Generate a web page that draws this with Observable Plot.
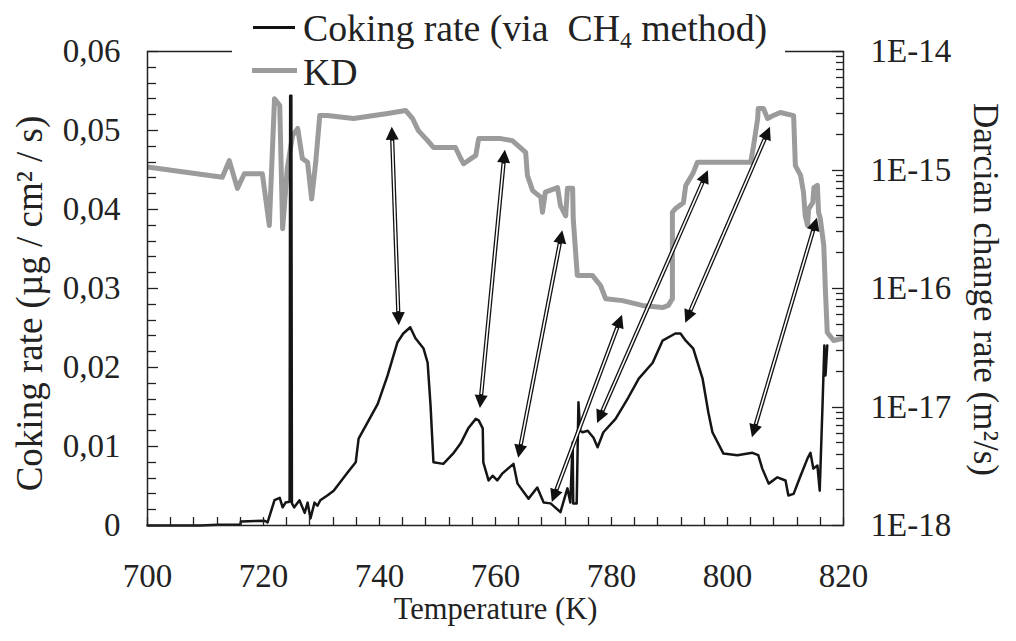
<!DOCTYPE html>
<html>
<head>
<meta charset="utf-8">
<script src="https://cdn.jsdelivr.net/npm/d3@7"></script>
<script src="https://cdn.jsdelivr.net/npm/@observablehq/plot@0.6"></script>
<style>
  body { margin: 0; background: #fff; }
  #wrap { position: relative; width: 1016px; height: 641px; overflow: hidden; font-family: "Liberation Serif"; color: #222; }
  #chart { position: absolute; left: 0; top: 0; }
  svg text { font-family: "Liberation Serif" !important; }
  #legend { position: absolute; left: 232px; top: 0; width: 553px; height: 90px; background: #fff; }
  .sample { position: absolute; }
  .ltext { position: absolute; font-size: 37.8px; line-height: 37px; white-space: nowrap; }
  .ltext sub { font-size: 0.62em; line-height: 0; vertical-align: -0.28em; }
</style>
</head>
<body>
<div id="wrap">
  <div id="chart"></div>
  <div id="legend">
    <div class="sample" style="left:21px;top:26px;width:42px;height:2.5px;background:#111"></div>
    <div class="ltext" style="left:71px;top:10px">Coking rate (via&nbsp; CH<sub>4</sub> method)</div>
    <div class="sample" style="left:20px;top:68px;width:45px;height:5px;background:#9b9b9b"></div>
    <div class="ltext" style="left:71px;top:54px">KD</div>
  </div>
</div>
<script>
// ---- Data ----
const cokingTemperature = [700, 709.1, 712.1, 716.0, 716.1, 720.2, 720.7, 721.9, 722.8, 723.3, 723.8, 724.5, 724.6, 724.8, 724.9, 725.3, 726.2, 727.1, 727.6, 728.1, 728.8, 729.3, 729.8, 731.0, 732.1, 734.5, 735.9, 736.4, 737.9, 739.7, 741.4, 743.1, 744.1, 745.3, 746.2, 747.6, 748.3, 748.8, 749.3, 751.0, 752.8, 754.0, 755.3, 756.6, 757.1, 757.8, 757.9, 758.8, 759.5, 760.3, 760.9, 761.2, 763.1, 763.8, 765.7, 767.2, 768.3, 769.5, 771.2, 772.4, 772.9, 773.3, 773.4, 774.0, 774.3, 774.6, 775.0, 775.9, 776.9, 777.6, 778.6, 780.7, 782.9, 784.7, 787.1, 788.8, 791.0, 791.9, 792.8, 794.1, 795.7, 796.7, 797.4, 799.3, 801.7, 804.3, 805.3, 806.0, 807.1, 808.6, 810.0, 810.5, 811.4, 812.6, 813.8, 814.3, 814.8, 815.5, 815.9, 816.4, 816.7, 816.9, 817.2];
const cokingRate = [0.0000, 0.0000, 0.0001, 0.0001, 0.0005, 0.0006, 0.0004, 0.0032, 0.0035, 0.0023, 0.0029, 0.0030, 0.0544, 0.0544, 0.0028, 0.0023, 0.0032, 0.0016, 0.0029, 0.0009, 0.0029, 0.0025, 0.0032, 0.0038, 0.0044, 0.0067, 0.0080, 0.0110, 0.0130, 0.0154, 0.0190, 0.0232, 0.0243, 0.0251, 0.0237, 0.0224, 0.0206, 0.0152, 0.0080, 0.0078, 0.0092, 0.0104, 0.0123, 0.0135, 0.0133, 0.0123, 0.0080, 0.0057, 0.0063, 0.0057, 0.0063, 0.0066, 0.0078, 0.0053, 0.0034, 0.0048, 0.0029, 0.0028, 0.0017, 0.0047, 0.0029, 0.0105, 0.0028, 0.0028, 0.0156, 0.0120, 0.0118, 0.0120, 0.0111, 0.0099, 0.0118, 0.0135, 0.0162, 0.0186, 0.0206, 0.0234, 0.0243, 0.0243, 0.0234, 0.0224, 0.0186, 0.0143, 0.0118, 0.0091, 0.0089, 0.0092, 0.0089, 0.0072, 0.0053, 0.0061, 0.0057, 0.0038, 0.0040, 0.0063, 0.0085, 0.0092, 0.0072, 0.0076, 0.0044, 0.0156, 0.0228, 0.0190, 0.0228];

const kdTemperature = [700.0, 712.9, 714.1, 715.5, 716.7, 719.8, 721.0, 721.9, 722.8, 723.3, 724.1, 725.0, 725.9, 726.7, 727.6, 728.3, 729.0, 729.7, 731.0, 735.5, 736.7, 741.4, 744.5, 745.7, 746.7, 748.3, 749.3, 753.1, 754.0, 754.5, 756.6, 757.1, 760.9, 762.9, 765.2, 765.5, 766.4, 767.8, 768.1, 768.6, 770.7, 771.2, 772.1, 772.4, 773.3, 773.4, 774.1, 776.7, 778.1, 779.0, 781.9, 785.3, 788.8, 789.8, 790.5, 790.5, 791.0, 792.4, 792.8, 794.1, 794.8, 804.0, 804.5, 805.2, 805.3, 806.2, 806.9, 807.9, 809.1, 811.4, 811.7, 812.6, 813.1, 813.4, 813.8, 814.0, 814.7, 814.9, 815.5, 815.7, 816.0, 816.6, 816.9, 817.2, 818.3, 820.0];
const kdValue = [1.06e-15, 8.7e-16, 1.2e-15, 7.0e-16, 9.3e-16, 9.3e-16, 3.4e-16, 4.0e-15, 3.5e-15, 3.2e-16, 1.03e-15, 1.95e-15, 2.24e-15, 1.25e-15, 1.16e-15, 5.7e-16, 1.16e-15, 2.88e-15, 2.88e-15, 2.72e-15, 2.77e-15, 3.0e-15, 3.18e-15, 2.72e-15, 2.15e-15, 1.77e-15, 1.55e-15, 1.55e-15, 1.25e-15, 1.13e-15, 1.33e-15, 1.84e-15, 1.84e-15, 1.77e-15, 1.41e-15, 9.0e-16, 6.7e-16, 5.9e-16, 4.4e-16, 6.5e-16, 7.1e-16, 5.0e-16, 4.1e-16, 7.0e-16, 7.0e-16, 3.9e-16, 1.29e-16, 1.29e-16, 1.06e-16, 8.2e-17, 7.9e-17, 7.2e-17, 6.9e-17, 7.2e-17, 8.2e-17, 4.4e-16, 4.7e-16, 5.3e-16, 7.4e-16, 9.5e-16, 1.16e-15, 1.16e-15, 1.61e-15, 2.72e-15, 3.3e-15, 3.3e-15, 2.72e-15, 2.88e-15, 3.06e-15, 2.88e-15, 1.09e-15, 9.0e-16, 6.5e-16, 4.1e-16, 3.4e-16, 4.7e-16, 5.3e-16, 7.1e-16, 7.4e-16, 4.4e-16, 3.9e-16, 2.3e-16, 9.2e-17, 4.25e-17, 3.64e-17, 3.8e-17];

// double-headed arrows linking KD features to coking-rate features
const arrowTopTemperature = [742.2, 761.7, 771.6, 781.9, 796.7, 807.4, 815.5];
const arrowTopRate = [0.0504, 0.0475, 0.0373, 0.0266, 0.0449, 0.0504, 0.0389];
const arrowBottomTemperature = [743.4, 757.4, 764.0, 769.8, 777.6, 792.8, 804.3];
const arrowBottomRate = [0.0253, 0.0148, 0.0085, 0.0029, 0.0129, 0.0256, 0.0111];

// axes
const xTickValues = [700, 720, 740, 760, 780, 800, 820];
const xTickLabels = ["700", "720", "740", "760", "780", "800", "820"];
const yTickValues = [0, 0.01, 0.02, 0.03, 0.04, 0.05, 0.06];
const yTickLabels = ["0", "0,01", "0,02", "0,03", "0,04", "0,05", "0,06"];
const kdTickValues = [1e-18, 1e-17, 1e-16, 1e-15, 1e-14];
const kdTickLabels = ["1E-18", "1E-17", "1E-16", "1E-15", "1E-14"];
const xTitle = "Temperature (K)";
const yTitle = "Coking rate (µg / cm² / s)";
const y2Title = "Darcian change rate (m²/s)";

// ---- build ----
const FONT = "Liberation Serif";
const lo = Math.log10(kdTickValues[0]), hi = Math.log10(kdTickValues[kdTickValues.length - 1]);
const yMax = yTickValues[yTickValues.length - 1];
const kdToY = v => (Math.log10(v) - lo) / (hi - lo) * yMax;

const coking = cokingTemperature.map((t, i) => ({t, r: cokingRate[i]}));
const kd = kdTemperature.map((t, i) => ({t, v: kdValue[i]}));
const arrows = arrowTopTemperature.map((t, i) => ({t1: t, r1: arrowTopRate[i], t2: arrowBottomTemperature[i], r2: arrowBottomRate[i]}));

const xLabel = new Map(xTickValues.map((v, i) => [v, xTickLabels[i]]));
const yLabel = new Map(yTickValues.map((v, i) => [v, yTickLabels[i]]));
const kdPositions = kdTickValues.map(kdToY);
const kdLabel = new Map(kdPositions.map((p, i) => [p, kdTickLabels[i]]));

// minor tick positions
const xMinor = d3.range(xTickValues[0], xTickValues[xTickValues.length - 1] + 0.001, 4);
const yMinor = d3.range(0, yMax + 1e-9, 0.002);
const kdMinor = [];
for (let e = lo; e < hi; e++) for (let k = 2; k <= 9; k++) kdMinor.push(kdToY(k * Math.pow(10, e)));

function insideTicks(index, scales, values, dims) {
  const {width, height, marginLeft, marginRight, marginTop, marginBottom} = dims;
  const xl = marginLeft, xr = width - marginRight, yb = height - marginBottom;
  const g = d3.create("svg:g").attr("stroke", "#222").attr("stroke-width", 1.3).attr("fill", "none");
  for (const t of xMinor) {
    const px = Math.round(scales.x(t)) + 0.5;
    g.append("line").attr("x1", px).attr("x2", px).attr("y1", yb).attr("y2", yb - 8);
  }
  for (const v of yMinor) {
    const py = Math.round(scales.y(v)) + 0.5;
    const major = yTickValues.some(m => Math.abs(m - v) < 1e-9);
    g.append("line").attr("x1", xl).attr("x2", xl + (major ? 11 : 9)).attr("y1", py).attr("y2", py);
  }
  for (const p of kdPositions) {
    const py = Math.round(scales.y(p)) + 0.5;
    g.append("line").attr("x1", xr).attr("x2", xr - 11).attr("y1", py).attr("y2", py);
  }
  for (const p of kdMinor) {
    const py = Math.round(scales.y(p)) + 0.5;
    g.append("line").attr("x1", xr).attr("x2", xr - 7).attr("y1", py).attr("y2", py);
  }
  return g.node();
}

function doubleArrows(index, scales) {
  const g = d3.create("svg:g");
  const hl = 13, hw = 6.5;
  for (const a of arrows) {
    const x1 = scales.x(a.t1), y1 = scales.y(a.r1), x2 = scales.x(a.t2), y2 = scales.y(a.r2);
    const dx = x2 - x1, dy = y2 - y1, L = Math.hypot(dx, dy);
    const ux = dx / L, uy = dy / L, nx = -uy, ny = ux;
    const s1 = [x1 + ux * (hl - 1), y1 + uy * (hl - 1)], s2 = [x2 - ux * (hl - 1), y2 - uy * (hl - 1)];
    g.append("line").attr("x1", s1[0]).attr("y1", s1[1]).attr("x2", s2[0]).attr("y2", s2[1])
      .attr("stroke", "#111").attr("stroke-width", 4.2);
    g.append("line").attr("x1", s1[0] + ux * 2).attr("y1", s1[1] + uy * 2).attr("x2", s2[0] - ux * 2).attr("y2", s2[1] - uy * 2)
      .attr("stroke", "#fff").attr("stroke-width", 1.6);
    const head = (tx, ty, sx, sy) => {
      const bx = tx + sx * hl, by = ty + sy * hl;
      g.append("polygon").attr("fill", "#111")
        .attr("points", `${tx},${ty} ${bx + nx * hw},${by + ny * hw} ${bx - nx * hw},${by - ny * hw}`);
    };
    head(x1, y1, ux, uy);
    head(x2, y2, -ux, -uy);
  }
  return g.node();
}

const chart = Plot.plot({
  width: 1016,
  height: 641,
  marginLeft: 147,
  marginRight: 173,
  marginTop: 51,
  marginBottom: 116,
  style: {fontFamily: FONT, fontSize: "33px", color: "#222", background: "transparent", overflow: "visible"},
  x: {domain: [xTickValues[0], xTickValues[xTickValues.length - 1]], label: null},
  y: {domain: [0, yMax], label: null},
  marks: [
    Plot.line(kd, {x: "t", y: d => kdToY(d.v), stroke: "#9b9b9b", strokeWidth: 5, strokeLinejoin: "round", strokeLinecap: "butt"}),
    Plot.line(coking, {x: "t", y: "r", stroke: "#151515", strokeWidth: 2.5, strokeLinejoin: "round"}),
    doubleArrows,
    Plot.frame({stroke: "#222", strokeWidth: 1.5}),
    insideTicks,
    Plot.axisX({ticks: xTickValues, tickSize: 0, tickPadding: 38, tickFormat: d => xLabel.get(d), label: null, fontSize: 33, fontFamily: FONT}),
    Plot.axisY({anchor: "left", ticks: yTickValues, tickSize: 0, tickPadding: 27, tickFormat: d => yLabel.get(d), label: null, fontSize: 33, fontFamily: FONT}),
    Plot.axisY({anchor: "right", ticks: kdPositions, tickSize: 0, tickPadding: 27, tickFormat: d => kdLabel.get(d), label: null, fontSize: 33, fontFamily: FONT}),
    Plot.text([xTitle], {text: d => d, frameAnchor: "bottom", dy: 84, textAnchor: "middle", lineAnchor: "middle", fontSize: 30.5, fontFamily: FONT}),
    Plot.text([yTitle], {text: d => d, frameAnchor: "left", dx: -117, dy: 15, rotate: -90, textAnchor: "middle", lineAnchor: "middle", fontSize: 37, fontFamily: FONT}),
    Plot.text([y2Title], {text: d => d, frameAnchor: "right", dx: 142, dy: 1, rotate: 90, textAnchor: "middle", lineAnchor: "middle", fontSize: 35, fontFamily: FONT})
  ]
});
document.getElementById("chart").appendChild(chart);
</script>
</body>
</html>
